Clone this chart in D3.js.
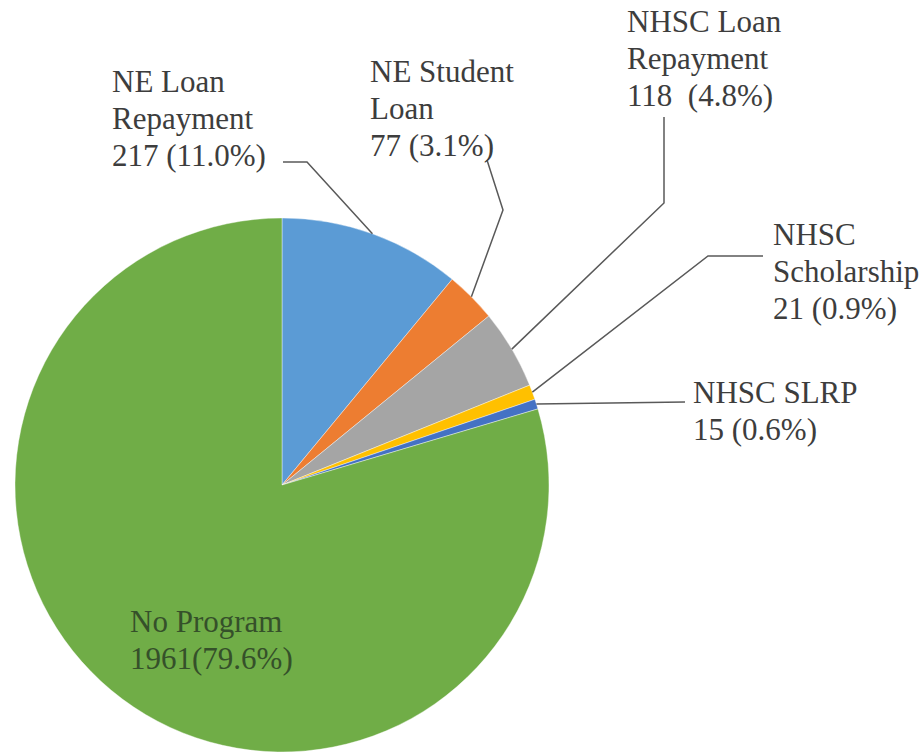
<!DOCTYPE html>
<meta charset="utf-8">
<style>
  body { margin: 0; background: #fff; }
  text { font-family: "Liberation Serif", "Times New Roman", serif; fill: #404040; }
</style>
<body>
  <div id="chart"></div>
</body>
<script src="https://cdn.jsdelivr.net/npm/d3@7"></script>
<script>
  var width = 922, height = 755;

  // data (slices sized by the printed percentages)
  var categories = ["NE Loan Repayment", "NE Student Loan", "NHSC Loan Repayment",
                    "NHSC Scholarship", "NHSC SLRP", "No Program"];
  var counts = [217, 77, 118, 21, 15, 1961];
  var percents = [11.0, 3.1, 4.8, 0.9, 0.6, 79.6];
  var labelLines = [
    ["NE Loan", "Repayment", "217 (11.0%)"],
    ["NE Student", "Loan", "77 (3.1%)"],
    ["NHSC Loan", "Repayment", "118  (4.8%)"],
    ["NHSC", "Scholarship", "21 (0.9%)"],
    ["NHSC SLRP", "15 (0.6%)"],
    ["No Program", "1961(79.6%)"]
  ];
  var colors = ["#5b9bd5", "#ed7d31", "#a5a5a5", "#ffc000", "#4472c4", "#70ad47"];

  // label placement: text origin and leader bend points (null = no leader)
  var layout = [
    { x: 112, y: 92,  leader: [[283, 162], [307, 162]] },
    { x: 370, y: 82,  leader: [[487, 160], [503, 210]] },
    { x: 627, y: 32,  leader: [[664, 117], [664, 203]] },
    { x: 773, y: 245, leader: [[763, 256], [708, 256]] },
    { x: 693, y: 403, leader: [[685, 402]] },
    { x: 130, y: 632, leader: null }
  ];

  var cx = 282, cy = 485, r = 267, lineH = 37;

  var svg = d3.select("#chart").append("svg")
    .attr("width", width)
    .attr("height", height);

  var pie = d3.pie().sort(null).value(function(d) { return d; });
  var arcs = pie(percents);
  var arc = d3.arc().innerRadius(0).outerRadius(r);

  var g = svg.append("g").attr("transform", "translate(" + cx + "," + cy + ")");

  g.selectAll("path")
    .data(arcs)
    .enter()
      .append("path")
      .attr("d", arc)
      .style("fill", function(d, i) { return colors[i]; })
      .style("stroke", "#fff")
      .style("stroke-width", 0.4);

  // leader lines: from label to the arc edge at the slice mid-angle
  arcs.forEach(function(a, i) {
    var lay = layout[i];
    if (!lay.leader) return;
    var mid = (a.startAngle + a.endAngle) / 2;
    var end = [cx + r * Math.sin(mid), cy - r * Math.cos(mid)];
    var pts = lay.leader.concat([end]);
    svg.append("path")
      .attr("d", d3.line()(pts))
      .style("fill", "none")
      .style("stroke", "#595959")
      .style("stroke-width", 1.5);
  });

  // labels
  labelLines.forEach(function(lines, i) {
    var t = svg.append("text")
      .attr("x", layout[i].x)
      .attr("y", layout[i].y)
      .attr("xml:space", "preserve")
      .style("font-size", "31px")
      .style("fill", i === 5 ? "#35502a" : "#3d3d3d");
    lines.forEach(function(s, j) {
      t.append("tspan")
        .attr("x", layout[i].x)
        .attr("y", layout[i].y + j * lineH)
        .style("white-space", "pre")
        .text(s);
    });
  });
</script>
